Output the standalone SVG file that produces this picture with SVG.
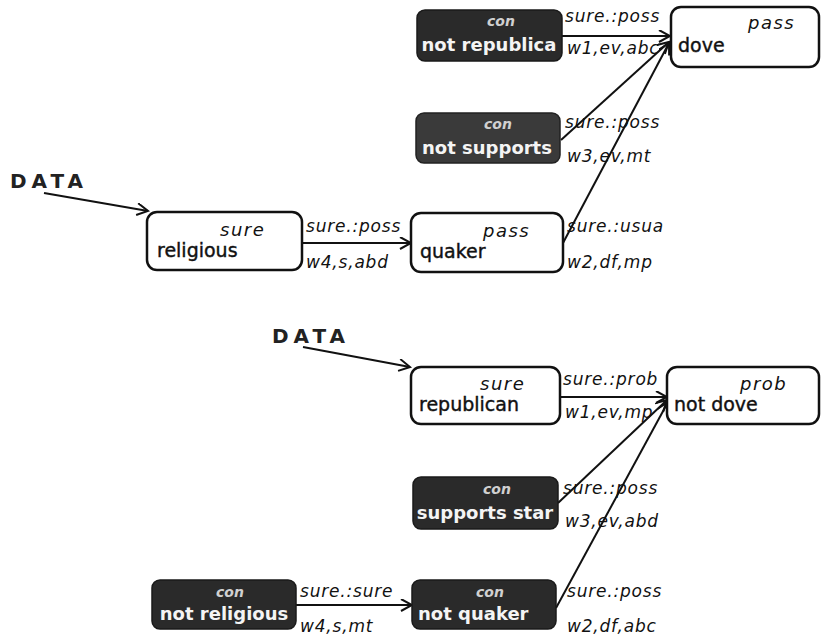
<svg xmlns="http://www.w3.org/2000/svg" width="822" height="641" viewBox="0 0 822 641">
<style>
.wbox{fill:#fff;stroke:#111;stroke-width:2.5}
.dbox{fill:#2a2a2a;stroke:#1a1a1a;stroke-width:1.5}
.gbox{fill:#3a3a3a;stroke:#222;stroke-width:1.5}
.nm{font-family:"DejaVu Sans",sans-serif;font-size:19px;fill:#111;stroke:#111;stroke-width:0.4}
.st{font-family:"DejaVu Sans",sans-serif;font-size:18px;font-style:italic;fill:#111;letter-spacing:1.5px}
.dn{font-family:"DejaVu Sans",sans-serif;font-size:18px;font-weight:bold;fill:#f4f4f4}
.con{font-family:"DejaVu Sans",sans-serif;font-size:14px;font-style:italic;font-weight:bold;fill:#d0d0d0;text-anchor:middle}
.lb{font-family:"DejaVu Sans",sans-serif;font-size:17px;font-style:italic;fill:#111;letter-spacing:0.8px}
.data{font-family:"DejaVu Sans",sans-serif;font-size:20px;font-weight:bold;fill:#222;letter-spacing:5px}
.edge{stroke:#111;stroke-width:2;fill:none;marker-end:url(#arr)}
</style>
<defs>
<marker id="arr" markerUnits="userSpaceOnUse" markerWidth="14" markerHeight="14" refX="12" refY="6" orient="auto">
<path d="M1,0 L12,6 L1,12" fill="none" stroke="#111" stroke-width="2"/>
</marker>
</defs>
<rect width="822" height="641" fill="#fff"/>

<g id="connectors">
<line class="edge" x1="44" y1="193" x2="148" y2="211"/>
<line class="edge" x1="303" y1="347" x2="410" y2="367"/>
<line class="edge" x1="562" y1="36" x2="670" y2="36"/>
<line class="edge" x1="561" y1="140" x2="669" y2="42"/>
<line class="edge" x1="563" y1="243" x2="669" y2="43"/>
<line class="edge" x1="302" y1="243" x2="411" y2="243"/>
<line class="edge" x1="560" y1="397" x2="667" y2="397"/>
<line class="edge" x1="558" y1="503" x2="667" y2="400"/>
<line class="edge" x1="556" y1="608" x2="668" y2="402"/>
<line class="edge" x1="296" y1="605" x2="412" y2="605"/>
<text class="lb" x="565" y="22">sure.:poss</text>
<text class="lb" x="567" y="54">w1,ev,abc</text>
<text class="lb" x="565" y="128">sure.:poss</text>
<text class="lb" x="567" y="162">w3,ev,mt</text>
<text class="lb" x="567" y="232">sure.:usua</text>
<text class="lb" x="567" y="268">w2,df,mp</text>
<text class="lb" x="306" y="232">sure.:poss</text>
<text class="lb" x="306" y="268">w4,s,abd</text>
<text class="lb" x="563" y="385">sure.:prob</text>
<text class="lb" x="565" y="418">w1,ev,mp</text>
<text class="lb" x="563" y="494">sure.:poss</text>
<text class="lb" x="565" y="527">w3,ev,abd</text>
<text class="lb" x="567" y="597">sure.:poss</text>
<text class="lb" x="567" y="632">w2,df,abc</text>
<text class="lb" x="300" y="597">sure.:sure</text>
<text class="lb" x="300" y="632">w4,s,mt</text>
</g>

<g id="data1"><text class="data" x="10" y="188">DATA</text></g>
<g id="data2"><text class="data" x="272" y="343">DATA</text></g>

<g id="not_republica">
<rect class="dbox" x="417" y="10" width="145" height="51" rx="8"/>
<text class="con" x="501" y="26">con</text>
<text class="dn" x="489" y="51" text-anchor="middle">not republica</text>
</g>
<g id="dove">
<rect class="wbox" x="671" y="7" width="148" height="60" rx="10"/>
<text class="st" x="748" y="29">pass</text>
<text class="nm" x="678" y="52">dove</text>
</g>
<g id="not_supports">
<rect class="gbox" x="416" y="113" width="144" height="50" rx="8"/>
<text class="con" x="498" y="129">con</text>
<text class="dn" x="487" y="154" text-anchor="middle">not supports</text>
</g>
<g id="religious">
<rect class="wbox" x="147" y="212" width="155" height="58" rx="10"/>
<text class="st" x="220" y="236">sure</text>
<text class="nm" x="157" y="257">religious</text>
</g>
<g id="quaker">
<rect class="wbox" x="411" y="213" width="152" height="59" rx="10"/>
<text class="st" x="483" y="237">pass</text>
<text class="nm" x="420" y="258">quaker</text>
</g>
<g id="republican">
<rect class="wbox" x="411" y="367" width="149" height="57" rx="10"/>
<text class="st" x="480" y="390">sure</text>
<text class="nm" x="419" y="411">republican</text>
</g>
<g id="not_dove">
<rect class="wbox" x="667" y="367" width="152" height="57" rx="10"/>
<text class="st" x="740" y="390">prob</text>
<text class="nm" x="674" y="411">not dove</text>
</g>
<g id="supports_star">
<rect class="dbox" x="413" y="477" width="145" height="52" rx="8"/>
<text class="con" x="497" y="494">con</text>
<text class="dn" x="485" y="519" text-anchor="middle">supports star</text>
</g>
<g id="not_religious">
<rect class="dbox" x="152" y="580" width="144" height="49" rx="8"/>
<text class="con" x="230" y="597">con</text>
<text class="dn" x="224" y="620" text-anchor="middle">not religious</text>
</g>
<g id="not_quaker">
<rect class="dbox" x="412" y="580" width="144" height="49" rx="8"/>
<text class="con" x="490" y="597">con</text>
<text class="dn" x="418" y="620">not quaker</text>
</g>
</svg>
